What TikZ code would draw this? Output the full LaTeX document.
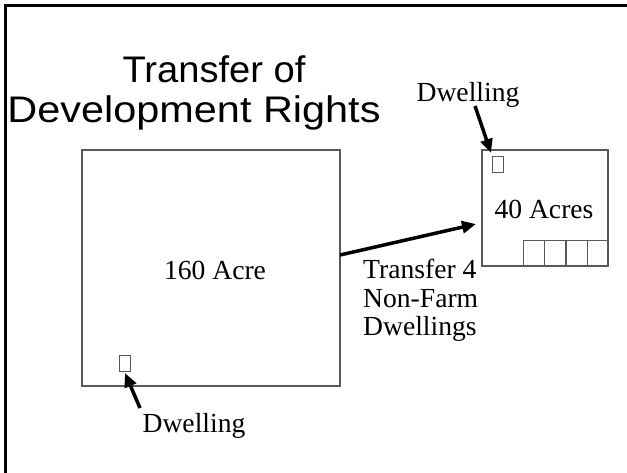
\documentclass[tikz,border=0pt]{standalone}
\usepackage{fontspec}
\setmainfont{Liberation Serif}
\newfontfamily\arialf{Liberation Sans}
\usetikzlibrary{arrows.meta}
\tikzset{
  plot/.style={draw=black!65, line width=1.5pt},
  hut/.style={draw=black!65, line width=1pt, fill=white},
  lbl/.style={inner sep=0pt, anchor=base, font=\fontsize{27.6}{28.5}\selectfont},
  pointer/.style={line width=3.5pt, -{Triangle[length=14pt,width=12pt]}},
  ttl/.style={inner sep=0pt, anchor=base, font=\arialf\fontsize{37}{40}\selectfont}
}
\begin{document}
\begin{tikzpicture}[x=1pt,y=-1pt]
\useasboundingbox (0,0) rectangle (627,472);
\fill[white] (0,0) rectangle (627,472);
% outer frame
\draw[line width=3pt] (5,480) -- (5,5) -- (640,5);
% title
\node[ttl] (t1) at (214,82) {\scalebox{1.03}[1]{Transfer of}};
\node[ttl] (t2) at (194,122) {\scalebox{1.12}[1]{Development Rights}};
% big parcel
\node[plot, minimum width=258pt, minimum height=236pt, inner sep=0pt] (big) at (211,268) {};
\node[lbl] (bigl) at (215,279) {160 Acre};
% small parcel
\node[plot, minimum width=126pt, minimum height=116pt, inner sep=0pt] (small) at (545,208) {};
\node[lbl] (smalll) at (544,218) {40 Acres};
% four lots
\foreach \i/\x in {1/533.5,2/555,3/576.5,4/597.5}{
  \node[draw=black!65, line width=1pt, minimum width=21pt, minimum height=26pt, inner sep=0pt] (lot\i) at (\x,253) {};
}
% dwellings
\node[hut, minimum width=11pt, minimum height=16pt, inner sep=0pt] (d1) at (497.5,164) {};
\node[hut, minimum width=11pt, minimum height=16pt, inner sep=0pt] (d2) at (125,363) {};
% labels
\node[lbl] (dl1) at (468,101) {Dwelling};
\node[lbl] (dl2) at (194,432) {Dwelling};
\node[lbl, anchor=base west] (tr1) at (363,278) {Transfer 4};
\node[lbl, anchor=base west] (tr2) at (363,307) {Non-Farm};
\node[lbl, anchor=base west] (tr3) at (363,335) {Dwellings};
% arrows
\coordinate (a1s) at (475,106);
\coordinate (a1e) at (491,153);
\coordinate (a2s) at (140,408);
\coordinate (a2e) at (125,373);
\coordinate (a3s) at (340,255);
\coordinate (a3e) at (476,224);
\draw[pointer] (a1s) -- (a1e);
\draw[pointer] (a2s) -- (a2e);
\draw[pointer] (a3s) -- (a3e);
\end{tikzpicture}
\end{document}
